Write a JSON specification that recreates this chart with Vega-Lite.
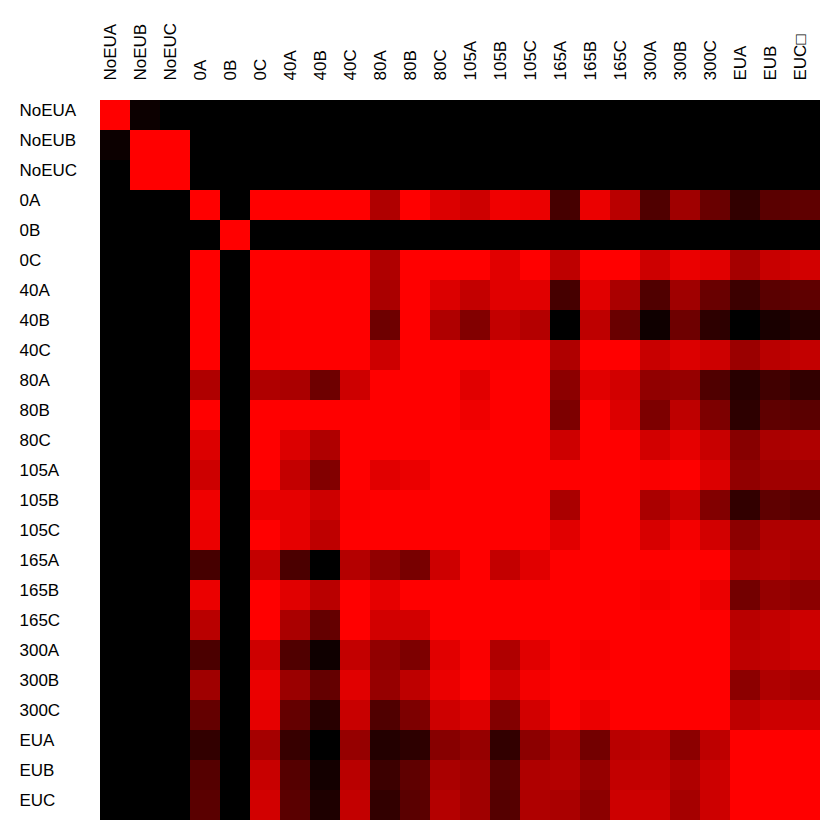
{"$schema":"https://vega.github.io/schema/vega-lite/v6.json","width":720,"height":720,"autosize":{"type":"none"},"padding":{"left":100,"top":100,"right":20,"bottom":20},"background":"white","config":{"view":{"stroke":null}},
"data":{"values":[
{"r":"NoEUA","c":"NoEUA","v":255},{"r":"NoEUA","c":"NoEUB","v":12},{"r":"NoEUA","c":"NoEUC","v":0},{"r":"NoEUA","c":"0A","v":0},{"r":"NoEUA","c":"0B","v":0},{"r":"NoEUA","c":"0C","v":0},{"r":"NoEUA","c":"40A","v":0},{"r":"NoEUA","c":"40B","v":0},{"r":"NoEUA","c":"40C","v":0},{"r":"NoEUA","c":"80A","v":0},{"r":"NoEUA","c":"80B","v":0},{"r":"NoEUA","c":"80C","v":0},{"r":"NoEUA","c":"105A","v":0},{"r":"NoEUA","c":"105B","v":0},{"r":"NoEUA","c":"105C","v":0},{"r":"NoEUA","c":"165A","v":0},{"r":"NoEUA","c":"165B","v":0},{"r":"NoEUA","c":"165C","v":0},{"r":"NoEUA","c":"300A","v":0},{"r":"NoEUA","c":"300B","v":0},{"r":"NoEUA","c":"300C","v":0},{"r":"NoEUA","c":"EUA","v":0},{"r":"NoEUA","c":"EUB","v":0},{"r":"NoEUA","c":"EUC□","v":0},
{"r":"NoEUB","c":"NoEUA","v":12},{"r":"NoEUB","c":"NoEUB","v":255},{"r":"NoEUB","c":"NoEUC","v":255},{"r":"NoEUB","c":"0A","v":0},{"r":"NoEUB","c":"0B","v":0},{"r":"NoEUB","c":"0C","v":0},{"r":"NoEUB","c":"40A","v":0},{"r":"NoEUB","c":"40B","v":0},{"r":"NoEUB","c":"40C","v":0},{"r":"NoEUB","c":"80A","v":0},{"r":"NoEUB","c":"80B","v":0},{"r":"NoEUB","c":"80C","v":0},{"r":"NoEUB","c":"105A","v":0},{"r":"NoEUB","c":"105B","v":0},{"r":"NoEUB","c":"105C","v":0},{"r":"NoEUB","c":"165A","v":0},{"r":"NoEUB","c":"165B","v":0},{"r":"NoEUB","c":"165C","v":0},{"r":"NoEUB","c":"300A","v":0},{"r":"NoEUB","c":"300B","v":0},{"r":"NoEUB","c":"300C","v":0},{"r":"NoEUB","c":"EUA","v":0},{"r":"NoEUB","c":"EUB","v":0},{"r":"NoEUB","c":"EUC□","v":0},
{"r":"NoEUC","c":"NoEUA","v":0},{"r":"NoEUC","c":"NoEUB","v":255},{"r":"NoEUC","c":"NoEUC","v":255},{"r":"NoEUC","c":"0A","v":0},{"r":"NoEUC","c":"0B","v":0},{"r":"NoEUC","c":"0C","v":0},{"r":"NoEUC","c":"40A","v":0},{"r":"NoEUC","c":"40B","v":0},{"r":"NoEUC","c":"40C","v":0},{"r":"NoEUC","c":"80A","v":0},{"r":"NoEUC","c":"80B","v":0},{"r":"NoEUC","c":"80C","v":0},{"r":"NoEUC","c":"105A","v":0},{"r":"NoEUC","c":"105B","v":0},{"r":"NoEUC","c":"105C","v":0},{"r":"NoEUC","c":"165A","v":0},{"r":"NoEUC","c":"165B","v":0},{"r":"NoEUC","c":"165C","v":0},{"r":"NoEUC","c":"300A","v":0},{"r":"NoEUC","c":"300B","v":0},{"r":"NoEUC","c":"300C","v":0},{"r":"NoEUC","c":"EUA","v":0},{"r":"NoEUC","c":"EUB","v":0},{"r":"NoEUC","c":"EUC□","v":0},
{"r":"0A","c":"NoEUA","v":0},{"r":"0A","c":"NoEUB","v":0},{"r":"0A","c":"NoEUC","v":0},{"r":"0A","c":"0A","v":255},{"r":"0A","c":"0B","v":0},{"r":"0A","c":"0C","v":255},{"r":"0A","c":"40A","v":255},{"r":"0A","c":"40B","v":255},{"r":"0A","c":"40C","v":255},{"r":"0A","c":"80A","v":175},{"r":"0A","c":"80B","v":255},{"r":"0A","c":"80C","v":220},{"r":"0A","c":"105A","v":205},{"r":"0A","c":"105B","v":240},{"r":"0A","c":"105C","v":235},{"r":"0A","c":"165A","v":70},{"r":"0A","c":"165B","v":235},{"r":"0A","c":"165C","v":185},{"r":"0A","c":"300A","v":80},{"r":"0A","c":"300B","v":160},{"r":"0A","c":"300C","v":105},{"r":"0A","c":"EUA","v":50},{"r":"0A","c":"EUB","v":90},{"r":"0A","c":"EUC□","v":95},
{"r":"0B","c":"NoEUA","v":0},{"r":"0B","c":"NoEUB","v":0},{"r":"0B","c":"NoEUC","v":0},{"r":"0B","c":"0A","v":0},{"r":"0B","c":"0B","v":255},{"r":"0B","c":"0C","v":0},{"r":"0B","c":"40A","v":0},{"r":"0B","c":"40B","v":0},{"r":"0B","c":"40C","v":0},{"r":"0B","c":"80A","v":0},{"r":"0B","c":"80B","v":0},{"r":"0B","c":"80C","v":0},{"r":"0B","c":"105A","v":0},{"r":"0B","c":"105B","v":0},{"r":"0B","c":"105C","v":0},{"r":"0B","c":"165A","v":0},{"r":"0B","c":"165B","v":0},{"r":"0B","c":"165C","v":0},{"r":"0B","c":"300A","v":0},{"r":"0B","c":"300B","v":0},{"r":"0B","c":"300C","v":0},{"r":"0B","c":"EUA","v":0},{"r":"0B","c":"EUB","v":0},{"r":"0B","c":"EUC□","v":0},
{"r":"0C","c":"NoEUA","v":0},{"r":"0C","c":"NoEUB","v":0},{"r":"0C","c":"NoEUC","v":0},{"r":"0C","c":"0A","v":255},{"r":"0C","c":"0B","v":0},{"r":"0C","c":"0C","v":255},{"r":"0C","c":"40A","v":255},{"r":"0C","c":"40B","v":250},{"r":"0C","c":"40C","v":255},{"r":"0C","c":"80A","v":175},{"r":"0C","c":"80B","v":255},{"r":"0C","c":"80C","v":255},{"r":"0C","c":"105A","v":255},{"r":"0C","c":"105B","v":225},{"r":"0C","c":"105C","v":255},{"r":"0C","c":"165A","v":190},{"r":"0C","c":"165B","v":255},{"r":"0C","c":"165C","v":255},{"r":"0C","c":"300A","v":205},{"r":"0C","c":"300B","v":235},{"r":"0C","c":"300C","v":225},{"r":"0C","c":"EUA","v":165},{"r":"0C","c":"EUB","v":200},{"r":"0C","c":"EUC□","v":210},
{"r":"40A","c":"NoEUA","v":0},{"r":"40A","c":"NoEUB","v":0},{"r":"40A","c":"NoEUC","v":0},{"r":"40A","c":"0A","v":255},{"r":"40A","c":"0B","v":0},{"r":"40A","c":"0C","v":255},{"r":"40A","c":"40A","v":255},{"r":"40A","c":"40B","v":255},{"r":"40A","c":"40C","v":255},{"r":"40A","c":"80A","v":170},{"r":"40A","c":"80B","v":255},{"r":"40A","c":"80C","v":220},{"r":"40A","c":"105A","v":195},{"r":"40A","c":"105B","v":225},{"r":"40A","c":"105C","v":225},{"r":"40A","c":"165A","v":70},{"r":"40A","c":"165B","v":225},{"r":"40A","c":"165C","v":170},{"r":"40A","c":"300A","v":80},{"r":"40A","c":"300B","v":160},{"r":"40A","c":"300C","v":105},{"r":"40A","c":"EUA","v":60},{"r":"40A","c":"EUB","v":90},{"r":"40A","c":"EUC□","v":95},
{"r":"40B","c":"NoEUA","v":0},{"r":"40B","c":"NoEUB","v":0},{"r":"40B","c":"NoEUC","v":0},{"r":"40B","c":"0A","v":255},{"r":"40B","c":"0B","v":0},{"r":"40B","c":"0C","v":250},{"r":"40B","c":"40A","v":255},{"r":"40B","c":"40B","v":255},{"r":"40B","c":"40C","v":255},{"r":"40B","c":"80A","v":110},{"r":"40B","c":"80B","v":255},{"r":"40B","c":"80C","v":175},{"r":"40B","c":"105A","v":130},{"r":"40B","c":"105B","v":195},{"r":"40B","c":"105C","v":180},{"r":"40B","c":"165A","v":0},{"r":"40B","c":"165B","v":190},{"r":"40B","c":"165C","v":105},{"r":"40B","c":"300A","v":15},{"r":"40B","c":"300B","v":110},{"r":"40B","c":"300C","v":45},{"r":"40B","c":"EUA","v":0},{"r":"40B","c":"EUB","v":25},{"r":"40B","c":"EUC□","v":35},
{"r":"40C","c":"NoEUA","v":0},{"r":"40C","c":"NoEUB","v":0},{"r":"40C","c":"NoEUC","v":0},{"r":"40C","c":"0A","v":255},{"r":"40C","c":"0B","v":0},{"r":"40C","c":"0C","v":255},{"r":"40C","c":"40A","v":255},{"r":"40C","c":"40B","v":255},{"r":"40C","c":"40C","v":255},{"r":"40C","c":"80A","v":205},{"r":"40C","c":"80B","v":255},{"r":"40C","c":"80C","v":255},{"r":"40C","c":"105A","v":255},{"r":"40C","c":"105B","v":250},{"r":"40C","c":"105C","v":255},{"r":"40C","c":"165A","v":175},{"r":"40C","c":"165B","v":255},{"r":"40C","c":"165C","v":255},{"r":"40C","c":"300A","v":200},{"r":"40C","c":"300B","v":220},{"r":"40C","c":"300C","v":205},{"r":"40C","c":"EUA","v":155},{"r":"40C","c":"EUB","v":185},{"r":"40C","c":"EUC□","v":195},
{"r":"80A","c":"NoEUA","v":0},{"r":"80A","c":"NoEUB","v":0},{"r":"80A","c":"NoEUC","v":0},{"r":"80A","c":"0A","v":175},{"r":"80A","c":"0B","v":0},{"r":"80A","c":"0C","v":175},{"r":"80A","c":"40A","v":170},{"r":"80A","c":"40B","v":110},{"r":"80A","c":"40C","v":205},{"r":"80A","c":"80A","v":255},{"r":"80A","c":"80B","v":255},{"r":"80A","c":"80C","v":255},{"r":"80A","c":"105A","v":225},{"r":"80A","c":"105B","v":255},{"r":"80A","c":"105C","v":255},{"r":"80A","c":"165A","v":140},{"r":"80A","c":"165B","v":225},{"r":"80A","c":"165C","v":210},{"r":"80A","c":"300A","v":145},{"r":"80A","c":"300B","v":150},{"r":"80A","c":"300C","v":80},{"r":"80A","c":"EUA","v":40},{"r":"80A","c":"EUB","v":65},{"r":"80A","c":"EUC□","v":50},
{"r":"80B","c":"NoEUA","v":0},{"r":"80B","c":"NoEUB","v":0},{"r":"80B","c":"NoEUC","v":0},{"r":"80B","c":"0A","v":255},{"r":"80B","c":"0B","v":0},{"r":"80B","c":"0C","v":255},{"r":"80B","c":"40A","v":255},{"r":"80B","c":"40B","v":255},{"r":"80B","c":"40C","v":255},{"r":"80B","c":"80A","v":255},{"r":"80B","c":"80B","v":255},{"r":"80B","c":"80C","v":255},{"r":"80B","c":"105A","v":240},{"r":"80B","c":"105B","v":255},{"r":"80B","c":"105C","v":255},{"r":"80B","c":"165A","v":125},{"r":"80B","c":"165B","v":255},{"r":"80B","c":"165C","v":220},{"r":"80B","c":"300A","v":125},{"r":"80B","c":"300B","v":190},{"r":"80B","c":"300C","v":125},{"r":"80B","c":"EUA","v":45},{"r":"80B","c":"EUB","v":95},{"r":"80B","c":"EUC□","v":90},
{"r":"80C","c":"NoEUA","v":0},{"r":"80C","c":"NoEUB","v":0},{"r":"80C","c":"NoEUC","v":0},{"r":"80C","c":"0A","v":220},{"r":"80C","c":"0B","v":0},{"r":"80C","c":"0C","v":255},{"r":"80C","c":"40A","v":220},{"r":"80C","c":"40B","v":175},{"r":"80C","c":"40C","v":255},{"r":"80C","c":"80A","v":255},{"r":"80C","c":"80B","v":255},{"r":"80C","c":"80C","v":255},{"r":"80C","c":"105A","v":255},{"r":"80C","c":"105B","v":255},{"r":"80C","c":"105C","v":255},{"r":"80C","c":"165A","v":205},{"r":"80C","c":"165B","v":255},{"r":"80C","c":"165C","v":255},{"r":"80C","c":"300A","v":210},{"r":"80C","c":"300B","v":230},{"r":"80C","c":"300C","v":200},{"r":"80C","c":"EUA","v":135},{"r":"80C","c":"EUB","v":170},{"r":"80C","c":"EUC□","v":175},
{"r":"105A","c":"NoEUA","v":0},{"r":"105A","c":"NoEUB","v":0},{"r":"105A","c":"NoEUC","v":0},{"r":"105A","c":"0A","v":205},{"r":"105A","c":"0B","v":0},{"r":"105A","c":"0C","v":255},{"r":"105A","c":"40A","v":195},{"r":"105A","c":"40B","v":130},{"r":"105A","c":"40C","v":255},{"r":"105A","c":"80A","v":225},{"r":"105A","c":"80B","v":235},{"r":"105A","c":"80C","v":255},{"r":"105A","c":"105A","v":255},{"r":"105A","c":"105B","v":255},{"r":"105A","c":"105C","v":255},{"r":"105A","c":"165A","v":255},{"r":"105A","c":"165B","v":255},{"r":"105A","c":"165C","v":255},{"r":"105A","c":"300A","v":250},{"r":"105A","c":"300B","v":255},{"r":"105A","c":"300C","v":220},{"r":"105A","c":"EUA","v":145},{"r":"105A","c":"EUB","v":160},{"r":"105A","c":"EUC□","v":160},
{"r":"105B","c":"NoEUA","v":0},{"r":"105B","c":"NoEUB","v":0},{"r":"105B","c":"NoEUC","v":0},{"r":"105B","c":"0A","v":240},{"r":"105B","c":"0B","v":0},{"r":"105B","c":"0C","v":230},{"r":"105B","c":"40A","v":230},{"r":"105B","c":"40B","v":205},{"r":"105B","c":"40C","v":250},{"r":"105B","c":"80A","v":255},{"r":"105B","c":"80B","v":255},{"r":"105B","c":"80C","v":255},{"r":"105B","c":"105A","v":255},{"r":"105B","c":"105B","v":255},{"r":"105B","c":"105C","v":255},{"r":"105B","c":"165A","v":170},{"r":"105B","c":"165B","v":255},{"r":"105B","c":"165C","v":255},{"r":"105B","c":"300A","v":170},{"r":"105B","c":"300B","v":200},{"r":"105B","c":"300C","v":130},{"r":"105B","c":"EUA","v":50},{"r":"105B","c":"EUB","v":95},{"r":"105B","c":"EUC□","v":85},
{"r":"105C","c":"NoEUA","v":0},{"r":"105C","c":"NoEUB","v":0},{"r":"105C","c":"NoEUC","v":0},{"r":"105C","c":"0A","v":235},{"r":"105C","c":"0B","v":0},{"r":"105C","c":"0C","v":255},{"r":"105C","c":"40A","v":230},{"r":"105C","c":"40B","v":190},{"r":"105C","c":"40C","v":255},{"r":"105C","c":"80A","v":255},{"r":"105C","c":"80B","v":255},{"r":"105C","c":"80C","v":255},{"r":"105C","c":"105A","v":255},{"r":"105C","c":"105B","v":255},{"r":"105C","c":"105C","v":255},{"r":"105C","c":"165A","v":225},{"r":"105C","c":"165B","v":255},{"r":"105C","c":"165C","v":255},{"r":"105C","c":"300A","v":215},{"r":"105C","c":"300B","v":245},{"r":"105C","c":"300C","v":210},{"r":"105C","c":"EUA","v":140},{"r":"105C","c":"EUB","v":175},{"r":"105C","c":"EUC□","v":175},
{"r":"165A","c":"NoEUA","v":0},{"r":"165A","c":"NoEUB","v":0},{"r":"165A","c":"NoEUC","v":0},{"r":"165A","c":"0A","v":70},{"r":"165A","c":"0B","v":0},{"r":"165A","c":"0C","v":195},{"r":"165A","c":"40A","v":75},{"r":"165A","c":"40B","v":0},{"r":"165A","c":"40C","v":180},{"r":"165A","c":"80A","v":145},{"r":"165A","c":"80B","v":120},{"r":"165A","c":"80C","v":205},{"r":"165A","c":"105A","v":255},{"r":"165A","c":"105B","v":195},{"r":"165A","c":"105C","v":225},{"r":"165A","c":"165A","v":255},{"r":"165A","c":"165B","v":255},{"r":"165A","c":"165C","v":255},{"r":"165A","c":"300A","v":255},{"r":"165A","c":"300B","v":255},{"r":"165A","c":"300C","v":255},{"r":"165A","c":"EUA","v":175},{"r":"165A","c":"EUB","v":180},{"r":"165A","c":"EUC□","v":170},
{"r":"165B","c":"NoEUA","v":0},{"r":"165B","c":"NoEUB","v":0},{"r":"165B","c":"NoEUC","v":0},{"r":"165B","c":"0A","v":235},{"r":"165B","c":"0B","v":0},{"r":"165B","c":"0C","v":255},{"r":"165B","c":"40A","v":225},{"r":"165B","c":"40B","v":185},{"r":"165B","c":"40C","v":255},{"r":"165B","c":"80A","v":230},{"r":"165B","c":"80B","v":255},{"r":"165B","c":"80C","v":255},{"r":"165B","c":"105A","v":255},{"r":"165B","c":"105B","v":255},{"r":"165B","c":"105C","v":255},{"r":"165B","c":"165A","v":255},{"r":"165B","c":"165B","v":255},{"r":"165B","c":"165C","v":255},{"r":"165B","c":"300A","v":245},{"r":"165B","c":"300B","v":255},{"r":"165B","c":"300C","v":235},{"r":"165B","c":"EUA","v":115},{"r":"165B","c":"EUB","v":150},{"r":"165B","c":"EUC□","v":140},
{"r":"165C","c":"NoEUA","v":0},{"r":"165C","c":"NoEUB","v":0},{"r":"165C","c":"NoEUC","v":0},{"r":"165C","c":"0A","v":185},{"r":"165C","c":"0B","v":0},{"r":"165C","c":"0C","v":255},{"r":"165C","c":"40A","v":170},{"r":"165C","c":"40B","v":100},{"r":"165C","c":"40C","v":255},{"r":"165C","c":"80A","v":210},{"r":"165C","c":"80B","v":210},{"r":"165C","c":"80C","v":255},{"r":"165C","c":"105A","v":255},{"r":"165C","c":"105B","v":255},{"r":"165C","c":"105C","v":255},{"r":"165C","c":"165A","v":255},{"r":"165C","c":"165B","v":255},{"r":"165C","c":"165C","v":255},{"r":"165C","c":"300A","v":255},{"r":"165C","c":"300B","v":255},{"r":"165C","c":"300C","v":255},{"r":"165C","c":"EUA","v":185},{"r":"165C","c":"EUB","v":195},{"r":"165C","c":"EUC□","v":205},
{"r":"300A","c":"NoEUA","v":0},{"r":"300A","c":"NoEUB","v":0},{"r":"300A","c":"NoEUC","v":0},{"r":"300A","c":"0A","v":75},{"r":"300A","c":"0B","v":0},{"r":"300A","c":"0C","v":205},{"r":"300A","c":"40A","v":80},{"r":"300A","c":"40B","v":15},{"r":"300A","c":"40C","v":195},{"r":"300A","c":"80A","v":145},{"r":"300A","c":"80B","v":125},{"r":"300A","c":"80C","v":225},{"r":"300A","c":"105A","v":250},{"r":"300A","c":"105B","v":175},{"r":"300A","c":"105C","v":225},{"r":"300A","c":"165A","v":255},{"r":"300A","c":"165B","v":245},{"r":"300A","c":"165C","v":255},{"r":"300A","c":"300A","v":255},{"r":"300A","c":"300B","v":255},{"r":"300A","c":"300C","v":255},{"r":"300A","c":"EUA","v":190},{"r":"300A","c":"EUB","v":195},{"r":"300A","c":"EUC□","v":205},
{"r":"300B","c":"NoEUA","v":0},{"r":"300B","c":"NoEUB","v":0},{"r":"300B","c":"NoEUC","v":0},{"r":"300B","c":"0A","v":160},{"r":"300B","c":"0B","v":0},{"r":"300B","c":"0C","v":235},{"r":"300B","c":"40A","v":155},{"r":"300B","c":"40B","v":100},{"r":"300B","c":"40C","v":225},{"r":"300B","c":"80A","v":150},{"r":"300B","c":"80B","v":190},{"r":"300B","c":"80C","v":235},{"r":"300B","c":"105A","v":255},{"r":"300B","c":"105B","v":205},{"r":"300B","c":"105C","v":245},{"r":"300B","c":"165A","v":255},{"r":"300B","c":"165B","v":255},{"r":"300B","c":"165C","v":255},{"r":"300B","c":"300A","v":255},{"r":"300B","c":"300B","v":255},{"r":"300B","c":"300C","v":255},{"r":"300B","c":"EUA","v":140},{"r":"300B","c":"EUB","v":175},{"r":"300B","c":"EUC□","v":165},
{"r":"300C","c":"NoEUA","v":0},{"r":"300C","c":"NoEUB","v":0},{"r":"300C","c":"NoEUC","v":0},{"r":"300C","c":"0A","v":100},{"r":"300C","c":"0B","v":0},{"r":"300C","c":"0C","v":230},{"r":"300C","c":"40A","v":100},{"r":"300C","c":"40B","v":40},{"r":"300C","c":"40C","v":200},{"r":"300C","c":"80A","v":80},{"r":"300C","c":"80B","v":125},{"r":"300C","c":"80C","v":205},{"r":"300C","c":"105A","v":220},{"r":"300C","c":"105B","v":130},{"r":"300C","c":"105C","v":210},{"r":"300C","c":"165A","v":255},{"r":"300C","c":"165B","v":235},{"r":"300C","c":"165C","v":255},{"r":"300C","c":"300A","v":255},{"r":"300C","c":"300B","v":255},{"r":"300C","c":"300C","v":255},{"r":"300C","c":"EUA","v":190},{"r":"300C","c":"EUB","v":205},{"r":"300C","c":"EUC□","v":205},
{"r":"EUA","c":"NoEUA","v":0},{"r":"EUA","c":"NoEUB","v":0},{"r":"EUA","c":"NoEUC","v":0},{"r":"EUA","c":"0A","v":50},{"r":"EUA","c":"0B","v":0},{"r":"EUA","c":"0C","v":165},{"r":"EUA","c":"40A","v":55},{"r":"EUA","c":"40B","v":0},{"r":"EUA","c":"40C","v":150},{"r":"EUA","c":"80A","v":35},{"r":"EUA","c":"80B","v":45},{"r":"EUA","c":"80C","v":135},{"r":"EUA","c":"105A","v":150},{"r":"EUA","c":"105B","v":50},{"r":"EUA","c":"105C","v":140},{"r":"EUA","c":"165A","v":175},{"r":"EUA","c":"165B","v":115},{"r":"EUA","c":"165C","v":185},{"r":"EUA","c":"300A","v":190},{"r":"EUA","c":"300B","v":140},{"r":"EUA","c":"300C","v":190},{"r":"EUA","c":"EUA","v":255},{"r":"EUA","c":"EUB","v":255},{"r":"EUA","c":"EUC□","v":255},
{"r":"EUB","c":"NoEUA","v":0},{"r":"EUB","c":"NoEUB","v":0},{"r":"EUB","c":"NoEUC","v":0},{"r":"EUB","c":"0A","v":85},{"r":"EUB","c":"0B","v":0},{"r":"EUB","c":"0C","v":200},{"r":"EUB","c":"40A","v":85},{"r":"EUB","c":"40B","v":20},{"r":"EUB","c":"40C","v":185},{"r":"EUB","c":"80A","v":60},{"r":"EUB","c":"80B","v":95},{"r":"EUB","c":"80C","v":170},{"r":"EUB","c":"105A","v":160},{"r":"EUB","c":"105B","v":90},{"r":"EUB","c":"105C","v":175},{"r":"EUB","c":"165A","v":180},{"r":"EUB","c":"165B","v":150},{"r":"EUB","c":"165C","v":195},{"r":"EUB","c":"300A","v":195},{"r":"EUB","c":"300B","v":175},{"r":"EUB","c":"300C","v":205},{"r":"EUB","c":"EUA","v":255},{"r":"EUB","c":"EUB","v":255},{"r":"EUB","c":"EUC□","v":255},
{"r":"EUC","c":"NoEUA","v":0},{"r":"EUC","c":"NoEUB","v":0},{"r":"EUC","c":"NoEUC","v":0},{"r":"EUC","c":"0A","v":90},{"r":"EUC","c":"0B","v":0},{"r":"EUC","c":"0C","v":210},{"r":"EUC","c":"40A","v":90},{"r":"EUC","c":"40B","v":30},{"r":"EUC","c":"40C","v":195},{"r":"EUC","c":"80A","v":50},{"r":"EUC","c":"80B","v":90},{"r":"EUC","c":"80C","v":180},{"r":"EUC","c":"105A","v":160},{"r":"EUC","c":"105B","v":85},{"r":"EUC","c":"105C","v":175},{"r":"EUC","c":"165A","v":170},{"r":"EUC","c":"165B","v":140},{"r":"EUC","c":"165C","v":205},{"r":"EUC","c":"300A","v":205},{"r":"EUC","c":"300B","v":165},{"r":"EUC","c":"300C","v":205},{"r":"EUC","c":"EUA","v":255},{"r":"EUC","c":"EUB","v":255},{"r":"EUC","c":"EUC□","v":255}
]},
"mark":{"type":"rect"},
"encoding":{
"x":{"field":"c","type":"nominal","title":null,"scale":{"domain":["NoEUA","NoEUB","NoEUC","0A","0B","0C","40A","40B","40C","80A","80B","80C","105A","105B","105C","165A","165B","165C","300A","300B","300C","EUA","EUB","EUC□"],"paddingInner":0,"paddingOuter":0},"axis":{"orient":"top","domain":false,"ticks":false,"grid":false,"labelAngle":270,"labelAlign":"left","labelBaseline":"middle","labelPadding":20,"labelOffset":-4,"labelFont":"Liberation Sans","labelFontSize":17,"labelColor":"#000000","labelOverlap":false,"labelLimit":0}},
"y":{"field":"r","type":"nominal","title":null,"scale":{"domain":["NoEUA","NoEUB","NoEUC","0A","0B","0C","40A","40B","40C","80A","80B","80C","105A","105B","105C","165A","165B","165C","300A","300B","300C","EUA","EUB","EUC"],"paddingInner":0,"paddingOuter":0},"axis":{"orient":"left","domain":false,"ticks":false,"grid":false,"labelAlign":"left","labelBaseline":"middle","labelPadding":81,"labelOffset":-4,"labelFont":"Liberation Sans","labelFontSize":17,"labelColor":"#000000","labelOverlap":false,"labelLimit":0}},
"color":{"field":"v","type":"quantitative","legend":null,"scale":{"domain":[0,255],"range":["#000000","#ff0000"],"interpolate":"rgb"}}
}}
